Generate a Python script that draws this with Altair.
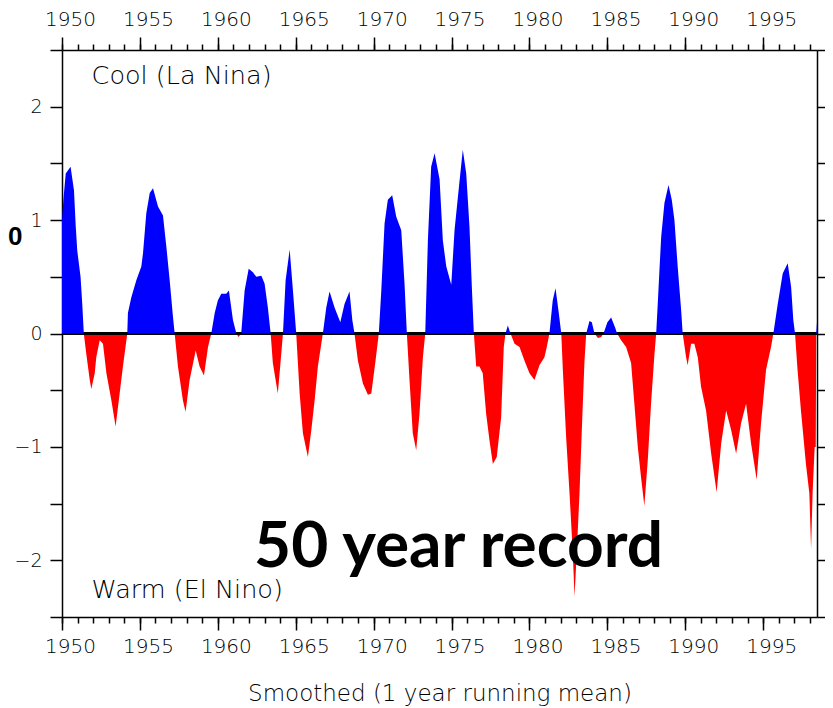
import altair as alt
import pandas as pd

# ---- data ----
years = [
    1950.0, 1950.1, 1950.24, 1950.55, 1950.77, 1950.88, 1950.98, 1951.19, 1951.30, 1951.40,
    1951.56, 1951.78, 1951.88, 1952.10, 1952.20, 1952.42, 1952.63, 1952.85, 1953.17, 1953.44,
    1953.70, 1953.91, 1954.19, 1954.23, 1954.45, 1954.77, 1955.09, 1955.20, 1955.41, 1955.63,
    1955.84, 1956.16, 1956.48, 1956.70, 1956.91, 1957.12, 1957.23, 1957.44, 1957.76, 1957.93,
    1958.19, 1958.58, 1958.83, 1959.11, 1959.37, 1959.58, 1959.80, 1960.00, 1960.22, 1960.54,
    1960.71, 1960.97, 1961.19, 1961.33, 1961.50, 1961.72, 1961.98, 1962.25, 1962.47, 1962.79,
    1963.00, 1963.21, 1963.39, 1963.53, 1963.85, 1964.07, 1964.18, 1964.35, 1964.61, 1964.82,
    1965.03, 1965.25, 1965.46, 1965.78, 1966.00, 1966.21, 1966.42, 1966.74, 1966.96, 1967.17,
    1967.49, 1967.86, 1968.13, 1968.45, 1968.63, 1968.77, 1968.99, 1969.31, 1969.63, 1969.85,
    1970.12, 1970.33, 1970.49, 1970.70, 1970.91, 1971.19, 1971.45, 1971.77, 1971.98, 1972.13,
    1972.30, 1972.51, 1972.73, 1972.94, 1973.16, 1973.31, 1973.48, 1973.69, 1973.91, 1974.23,
    1974.44, 1974.66, 1974.98, 1975.19, 1975.47, 1975.72, 1975.94, 1976.15, 1976.30, 1976.43,
    1976.58, 1976.79, 1977.00, 1977.22, 1977.43, 1977.65, 1977.90, 1978.18, 1978.35, 1978.46,
    1978.61, 1978.78, 1979.04, 1979.36, 1979.68, 1980.00, 1980.32, 1980.64, 1980.96, 1981.11,
    1981.28, 1981.49, 1981.67, 1981.88, 1982.04, 1982.14, 1982.35, 1982.57, 1982.78, 1982.89,
    1983.03, 1983.21, 1983.38, 1983.53, 1983.64, 1983.85, 1984.00, 1984.17, 1984.39, 1984.60,
    1984.75, 1985.00, 1985.24, 1985.50, 1985.62, 1985.88, 1986.20, 1986.52, 1986.73, 1986.95,
    1987.16, 1987.37, 1987.59, 1987.80, 1988.02, 1988.13, 1988.23, 1988.34, 1988.45, 1988.66,
    1988.92, 1989.13, 1989.30, 1989.51, 1989.73, 1989.83, 1990.05, 1990.15, 1990.37, 1990.58,
    1990.80, 1991.01, 1991.33, 1991.66, 1992.01, 1992.30, 1992.62, 1992.94, 1993.26, 1993.58,
    1993.90, 1994.22, 1994.58, 1994.86, 1995.18, 1995.50, 1995.65, 1995.93, 1996.25, 1996.57,
    1996.79, 1996.93, 1997.04, 1997.20, 1997.42, 1997.74, 1997.96, 1998.07, 1998.17, 1998.30,
    1998.37, 1998.40, 1998.45,
]
values = [
    1.00, 1.20, 1.41, 1.47, 1.26, 0.95, 0.73, 0.50, 0.26, 0.0,
    -0.18, -0.41, -0.49, -0.35, -0.21, -0.06, -0.09, -0.35, -0.59, -0.82,
    -0.53, -0.29, 0.0, 0.18, 0.32, 0.47, 0.59, 0.71, 1.06, 1.24,
    1.28, 1.12, 1.04, 0.76, 0.47, 0.15, 0.0, -0.29, -0.59, -0.69,
    -0.41, -0.15, -0.29, -0.37, -0.12, 0.0, 0.18, 0.29, 0.35, 0.35,
    0.38, 0.12, 0.0, -0.03, 0.0, 0.38, 0.57, 0.54, 0.50, 0.51,
    0.44, 0.23, 0.0, -0.26, -0.53, -0.18, 0.0, 0.47, 0.74, 0.38,
    0.0, -0.53, -0.88, -1.09, -0.85, -0.59, -0.29, 0.0, 0.23, 0.37,
    0.23, 0.10, 0.26, 0.37, 0.12, 0.0, -0.24, -0.44, -0.54, -0.53,
    -0.24, 0.0, 0.38, 0.97, 1.18, 1.22, 1.03, 0.91, 0.44, 0.0,
    -0.41, -0.88, -1.03, -0.71, -0.21, 0.0, 0.82, 1.47, 1.59, 1.36,
    0.82, 0.59, 0.43, 0.91, 1.29, 1.62, 1.41, 0.94, 0.41, 0.0,
    -0.29, -0.29, -0.35, -0.71, -0.94, -1.15, -1.09, -0.74, -0.12, 0.0,
    0.07, 0.0, -0.09, -0.12, -0.24, -0.35, -0.41, -0.28, -0.21, -0.12,
    0.0, 0.29, 0.40, 0.18, 0.0, -0.32, -0.91, -1.41, -1.94, -2.32,
    -1.94, -1.41, -0.77, -0.24, 0.0, 0.11, 0.10, 0.0, -0.04, -0.03,
    0.0, 0.10, 0.14, 0.05, 0.0, -0.06, -0.12, -0.26, -0.62, -1.00,
    -1.27, -1.52, -1.12, -0.62, -0.18, 0.0, 0.26, 0.56, 0.85, 1.15,
    1.31, 1.18, 1.00, 0.59, 0.21, 0.0, -0.21, -0.28, -0.09, -0.09,
    -0.21, -0.47, -0.68, -1.06, -1.40, -0.97, -0.68, -0.85, -1.06, -0.79,
    -0.62, -0.97, -1.29, -0.79, -0.32, -0.12, 0.0, 0.26, 0.53, 0.62,
    0.41, 0.12, 0.0, -0.32, -0.68, -1.15, -1.41, -1.90, -1.40, -1.00,
    -1.00, 0.0, 0.10,
]

major_years = [1950, 1955, 1960, 1965, 1970, 1975, 1980, 1985, 1990, 1995]
minor_years = list(range(1950, 1999))
y_ticks = [-2.5, -2.0, -1.5, -1.0, -0.5, 0.0, 0.5, 1.0, 1.5, 2.0, 2.5]
x_domain = [1950, 1998.45]
y_domain = [-2.5, 2.5]

cool_label = ["Cool (La Nina)"]
warm_label = ["Warm (El Nino)"]
big_label = ["50 year record"]
stray_label = ["0"]

# ---- tables ----
df = pd.DataFrame({"year": years, "value": values})
df["pos"] = df["value"].clip(lower=0)
df["neg"] = df["value"].clip(upper=0)

cool_df = pd.DataFrame({"year": [1951.9], "value": [2.2], "label": cool_label})
warm_df = pd.DataFrame({"year": [1951.9], "value": [-2.33], "label": warm_label})
big_df = pd.DataFrame({"year": [1975.45], "value": [-2.06], "label": big_label})
stray_df = pd.DataFrame({"value": [0.85], "label": stray_label})

xs = alt.Scale(domain=x_domain, nice=False, zero=False)
ys = alt.Scale(domain=y_domain, nice=False, zero=False)

FONT = "DejaVu Sans"
common_axis = dict(grid=False, tickColor="black", tickWidth=1.5, domainColor="black",
                   domainWidth=1.5, labelColor="black", labelFont=FONT,
                   labelFontWeight=300)

ax_bottom_major = alt.Axis(orient="bottom", values=major_years, format="d", tickSize=13,
                           labelPadding=6, labelOffset=8, labelFontSize=20,
                           labelFlush=False, labelOverlap=False,
                           title="Smoothed (1 year running mean)", titleFont=FONT,
                           titleFontSize=23, titleFontWeight=300, titleColor="black",
                           titleY=83, titleBaseline="alphabetic", **common_axis)
ax_bottom_minor = alt.Axis(orient="bottom", values=minor_years, tickSize=6, labels=False,
                           domain=False, title=None, grid=False, tickColor="black",
                           tickWidth=1.5)
ax_top_major = alt.Axis(orient="top", values=major_years, format="d", tickSize=13,
                        labelPadding=8, labelOffset=8, labelFontSize=20,
                        labelFlush=False, labelOverlap=False, title=None, **common_axis)
ax_top_minor = alt.Axis(orient="top", values=minor_years, tickSize=6, labels=False,
                        domain=False, title=None, grid=False, tickColor="black",
                        tickWidth=1.5)
ax_left = alt.Axis(orient="left", values=y_ticks, tickSize=12, labelPadding=8,
                   labelFontSize=19,
                   labelExpr="datum.value % 1 == 0 ? format(datum.value, 'd') : ''",
                   labelOverlap=False, labelFlush=False, title=None, **common_axis)
ax_right = alt.Axis(orient="right", values=y_ticks, tickSize=12, labels=False,
                    title=None, **common_axis)

base = alt.Chart(df)

red = base.mark_area(color="#ff0000", interpolate="linear").encode(
    x=alt.X("year:Q", scale=xs, axis=ax_top_major),
    y=alt.Y("neg:Q", scale=ys, axis=ax_right),
    y2=alt.datum(0),
)

zero = alt.Chart(df).mark_rule(color="black", strokeWidth=2).encode(
    y=alt.YDatum(0, scale=ys, axis=None),
)

blue = base.mark_area(color="#0000ff", interpolate="linear").encode(
    x=alt.X("year:Q", scale=xs, axis=ax_bottom_major),
    y=alt.Y("pos:Q", scale=ys, axis=ax_left),
    y2=alt.datum(0),
)

cool = alt.Chart(cool_df).mark_text(align="left", baseline="alphabetic", font=FONT,
                                    fontSize=25.5, fontWeight=300, color="black").encode(
    x=alt.X("year:Q", scale=xs, axis=ax_bottom_minor),
    y=alt.Y("value:Q", scale=ys, axis=None),
    text="label:N",
)

warm = alt.Chart(warm_df).mark_text(align="left", baseline="alphabetic", font=FONT,
                                    fontSize=25.5, fontWeight=300, color="black").encode(
    x=alt.X("year:Q", scale=xs, axis=ax_top_minor),
    y=alt.Y("value:Q", scale=ys, axis=None),
    text="label:N",
)

big = alt.Chart(big_df).mark_text(align="center", baseline="alphabetic", font="Lato",
                                  fontSize=64, fontWeight="bold", color="black").encode(
    x=alt.X("year:Q", scale=xs, axis=None),
    y=alt.Y("value:Q", scale=ys, axis=None),
    text="label:N",
)

stray = alt.Chart(stray_df).mark_text(align="left", baseline="middle", font="Liberation Sans",
                                      fontSize=26, fontWeight="bold", color="black").encode(
    x=alt.value(-54),
    y=alt.Y("value:Q", scale=ys, axis=None),
    text="label:N",
)

chart = alt.layer(red, zero, blue, cool, warm, big, stray).resolve_axis(
    x="independent", y="independent"
).properties(
    width=755, height=567,
    autosize=alt.AutoSizeParams(type="none"),
    padding={"left": 54, "top": 42, "right": 8, "bottom": 90},
    background="white",
).configure_view(stroke=None)

chart.save("out.html", embed_options={"renderer": "svg", "actions": False})
